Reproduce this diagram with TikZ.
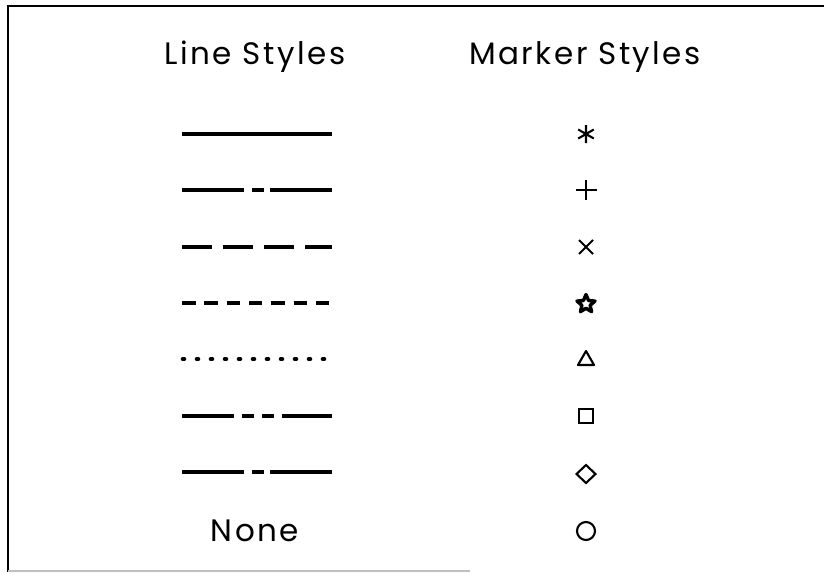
\documentclass[tikz,border=0pt]{standalone}
\usepackage{fontspec}
\setmainfont{Poppins}[LetterSpace=8]
\usetikzlibrary{shapes.geometric}

\tikzset{
  head/.style={font=\fontsize{31}{36}\selectfont,inner sep=0pt,anchor=base},
  sample/.style={line width=4pt},
  pen/.style={line width=2.1pt},
}

\begin{document}
\begin{tikzpicture}[x=1pt,y=-1pt]
\useasboundingbox (0,0) rectangle (824,573);
% frame
\draw[line width=2pt] (8,572)--(8,6)--(824,6);
\draw[line width=1.5pt,black!25] (8,571)--(470,571);

\node[head] (lineTitle) at (255,64) {Line Styles};
\node[head] (markTitle) at (585,64) {Marker Styles};

% line styles
\draw[sample] (182,134)--(332,134);
\draw[sample,dash pattern=on 61.5pt off 8.5pt on 11.5pt off 6.5pt on 62pt off 10pt] (182,190)--(332,190);
\draw[sample,dash pattern=on 30pt off 11pt] (182,247)--(332,247);
\draw[sample,dash pattern=on 13.5pt off 8.8pt] (182,303)--(330,303);
\draw[line width=4.6pt,line cap=round,dash pattern=on 1pt off 13pt] (183,359)--(325,359);
\draw[sample,dash pattern=on 51.5pt off 8.5pt on 11.5pt off 8.5pt on 11.5pt off 8.5pt on 60pt off 10pt] (182,416)--(332,416);
\draw[sample,dash pattern=on 61.5pt off 8.5pt on 11.5pt off 6.5pt on 62pt off 10pt] (182,472)--(332,472);
\node[head] (noneText) at (255,541) {None};

% markers
\draw[pen] (586,125)--(586,143) (578.2,129.5)--(593.8,138.5) (578.2,138.5)--(593.8,129.5);
\draw[pen] (575.5,190)--(596.5,190) (586,180)--(586,200);
\draw[pen] (579,240)--(593,254) (579,254)--(593,240);
\node[star,star points=5,star point ratio=2.2,draw,line width=3.4pt,line join=round,minimum size=19pt,inner sep=0pt] (starMark) at (586,304) {};
\draw[pen,line join=round] (578,365)--(594,365)--(586,351)--cycle;
\draw[pen] (579,409)--(593,409)--(593,423)--(579,423)--cycle;
\draw[pen] (576.5,474)--(586,465)--(595.5,474)--(586,483)--cycle;
\draw[pen] (586,531) circle[radius=9];
\end{tikzpicture}
\end{document}
